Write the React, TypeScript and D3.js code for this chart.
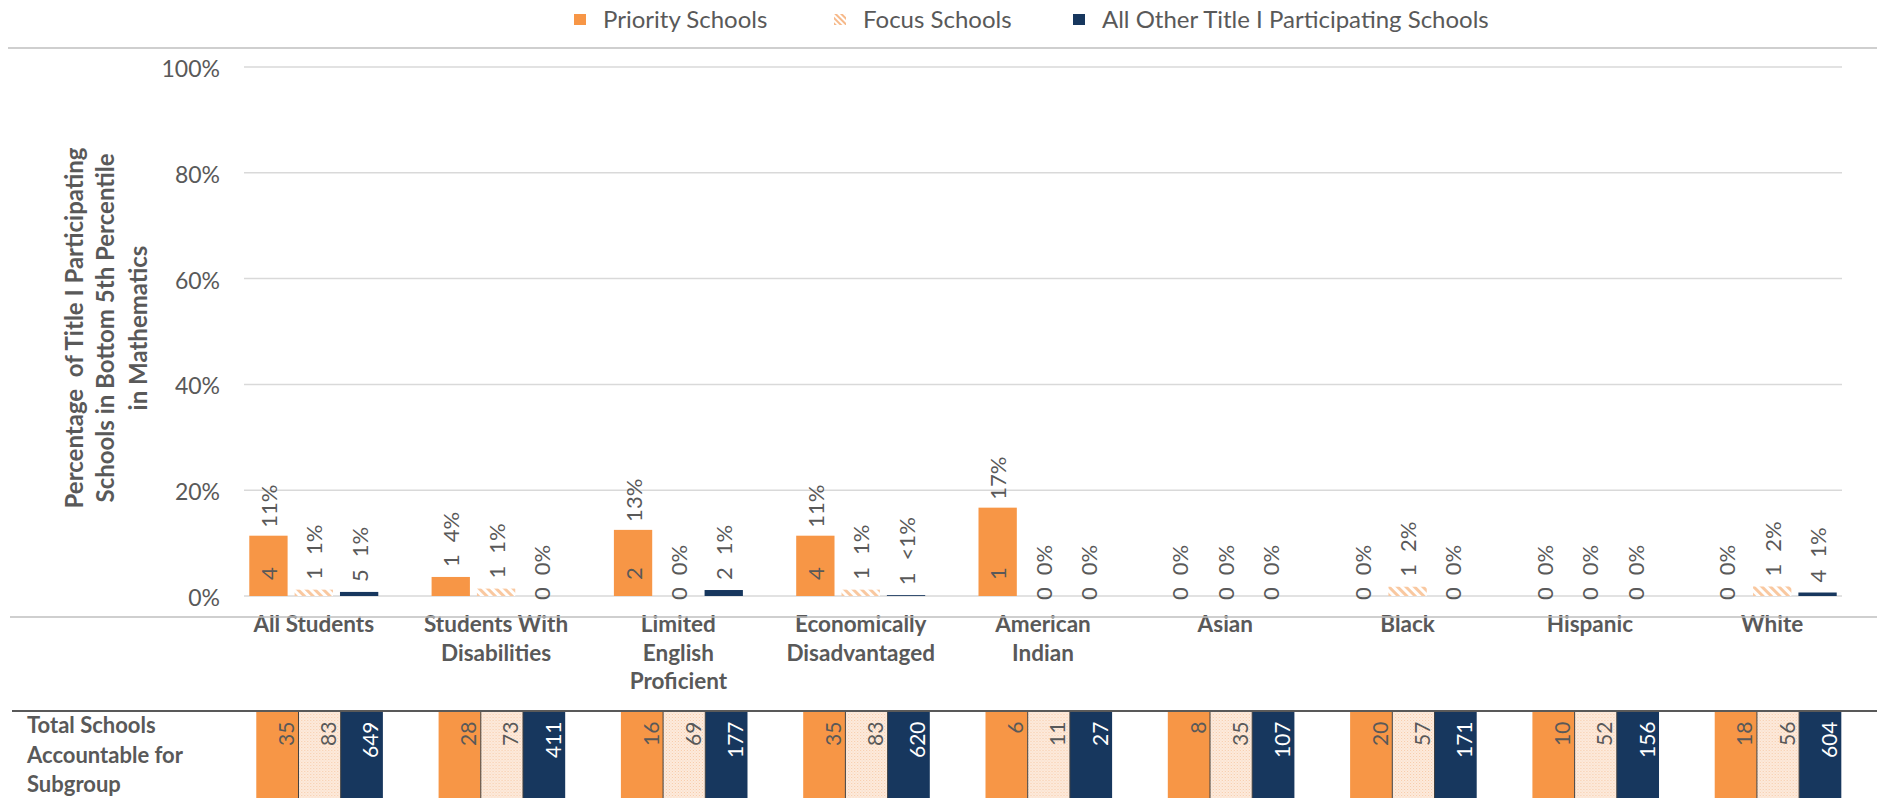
import React from "react";
import * as d3 from "d3";

const categories = [
  "All Students",
  "Students With Disabilities",
  "Limited English Proficient",
  "Economically Disadvantaged",
  "American Indian",
  "Asian",
  "Black",
  "Hispanic",
  "White",
];
const categoryLines = [
  ["All Students"],
  ["Students With", "Disabilities"],
  ["Limited", "English", "Proficient"],
  ["Economically", "Disadvantaged"],
  ["American", "Indian"],
  ["Asian"],
  ["Black"],
  ["Hispanic"],
  ["White"],
];
const seriesNames = ["Priority Schools", "Focus Schools", "All Other Title I Participating Schools"];

// percentage of schools in bottom 5th percentile (bar values)
const priorityPct = [11.4, 3.6, 12.5, 11.4, 16.7, 0, 0, 0, 0];
const focusPct = [1.2, 1.4, 0, 1.2, 0, 0, 1.75, 0, 1.8];
const otherPct = [0.77, 0, 1.13, 0.16, 0, 0, 0, 0, 0.66];

// count of schools in bottom 5th percentile
const priorityCount = [4, 1, 2, 4, 1, 0, 0, 0, 0];
const focusCount = [1, 1, 0, 1, 0, 0, 1, 0, 1];
const otherCount = [5, 0, 2, 1, 0, 0, 0, 0, 4];

// total schools accountable for subgroup
const priorityTotal = [35, 28, 16, 35, 6, 8, 20, 10, 18];
const focusTotal = [83, 73, 69, 83, 11, 35, 57, 52, 56];
const otherTotal = [649, 411, 177, 620, 27, 107, 171, 156, 604];

const yTicks = [0, 20, 40, 60, 80, 100];
const yTitleLines = ["Percentage  of Title I Participating", "Schools in Bottom 5th Percentile", "in Mathematics"];
const tableLabelLines = ["Total Schools", "Accountable for", "Subgroup"];

const ORANGE = "#F79646";
const NAVY = "#17375E";
const GREY = "#595959";
const FONT = "Lato, 'Open Sans', sans-serif";

const pctValues = [priorityPct, focusPct, otherPct];
const countValues = [priorityCount, focusCount, otherCount];
const totalValues = [priorityTotal, focusTotal, otherTotal];

function fmtPct(v: number) {
  if (v > 0 && v < 0.5) return "<1%";
  return `${Math.round(v)}%`;
}

export default function App() {
  const W = 1877;
  const H = 798;
  const x = d3
    .scaleBand<string>()
    .domain(categories)
    .range([244, 1842])
    .paddingInner(0.2924)
    .paddingOuter(0.029);
  const xs = d3
    .scaleBand<string>()
    .domain(seriesNames)
    .range([0, x.bandwidth()])
    .paddingInner(0.155);
  const y = d3.scaleLinear().domain([0, 100]).range([596, 67]);
  const y0 = y(0);
  const fills = [ORANGE, "url(#focusHatch)", NAVY];
  const cellFills = [ORANGE, "url(#focusDots)", NAVY];
  const cellW = 42.2;
  const labelFont = 22;
  const digitW = labelFont * 0.58;

  const legendX = [574, 834, 1073];
  const legendFills = [ORANGE, "url(#legendHatch)", NAVY];

  return (
    <svg
      width={W}
      height={H}
      style={{ position: "absolute", left: 0, top: 0, background: "#fff" }}
      fontFamily={FONT}
    >
      <defs>
        <pattern id="focusHatch" patternUnits="userSpaceOnUse" width="6" height="6" patternTransform="rotate(-45)">
          <rect width="6" height="6" fill="#ffffff" />
          <rect width="3" height="6" fill="#F9C8A0" />
        </pattern>
        <pattern id="legendHatch" patternUnits="userSpaceOnUse" width="4" height="4" patternTransform="rotate(-45)">
          <rect width="4" height="4" fill="#ffffff" />
          <rect width="2" height="4" fill="#F6B98A" />
        </pattern>
        <pattern id="focusDots" patternUnits="userSpaceOnUse" width="3" height="3">
          <rect width="3" height="3" fill="#FDEBDD" />
          <rect x="0" y="0" width="1" height="1" fill="#F6C9A6" />
          <rect x="1.5" y="1.5" width="1" height="1" fill="#F8D6BC" />
        </pattern>
      </defs>

      {/* legend */}
      {seriesNames.map((s, i) => (
        <g key={s}>
          <rect x={legendX[i]} y={14} width={12} height={11} fill={legendFills[i]} />
          <text x={legendX[i] + 29} y={28} fontSize={24} fill={GREY}>
            {s}
          </text>
        </g>
      ))}
      <line x1={8} x2={W} y1={48} y2={48} stroke="#BFBFBF" strokeWidth={1.5} />

      {/* gridlines and y ticks */}
      {yTicks.map((t) => (
        <g key={t}>
          <line x1={244} x2={1842} y1={y(t)} y2={y(t)} stroke="#D9D9D9" strokeWidth={1.5} />
          <text x={220} y={y(t) + 1} fontSize={23} fill={GREY} textAnchor="end" dominantBaseline="central">
            {`${t}%`}
          </text>
        </g>
      ))}

      {/* y title */}
      {yTitleLines.map((l, i) => (
        <text
          key={l}
          transform={`translate(${[73, 104, 137][i]},${328}) rotate(-90)`}
          textAnchor="middle"
          dominantBaseline="central"
          fontSize={24}
          fontWeight="bold"
          fill={GREY}
          style={{ whiteSpace: "pre" }}
        >
          {l}
        </text>
      ))}

      {/* bars */}
      {categories.map((c, ci) => (
        <g key={c} transform={`translate(${x(c)},0)`}>
          {seriesNames.map((s, si) => {
            const v = pctValues[si][ci];
            const bx = xs(s)!;
            const bw = xs.bandwidth();
            const top = y(v);
            const cx = bx + bw / 2;
            const count = countValues[si][ci];
            const countStr = `${count}`;
            const countLen = countStr.length * digitW;
            const inside = y0 - top > countLen + 24;
            const countBottom = v === 0 ? y0 + 4 : inside ? y0 - 16 : top - 10;
            const countTop = countBottom - countLen;
            const pctBottom = Math.min(top - 8, countTop - 12);
            return (
              <g key={s}>
                {v > 0 && <rect x={bx} y={top} width={bw} height={y0 - top} fill={fills[si]} />}
                <text
                  transform={`translate(${cx},${countBottom}) rotate(-90)`}
                  textAnchor="start"
                  dominantBaseline="central"
                  fontSize={labelFont}
                  fill={GREY}
                >
                  {countStr}
                </text>
                <text
                  transform={`translate(${cx},${pctBottom}) rotate(-90)`}
                  textAnchor="start"
                  dominantBaseline="central"
                  fontSize={labelFont}
                  fill={GREY}
                >
                  {fmtPct(v)}
                </text>
              </g>
            );
          })}
          {categoryLines[ci].map((l, li) => (
            <text
              key={l}
              x={x.bandwidth() / 2}
              y={632 + li * 28.5}
              textAnchor="middle"
              fontSize={22.5}
              fontWeight="bold"
              fill={GREY}
            >
              {l}
            </text>
          ))}
        </g>
      ))}

      <line x1={10} x2={W} y1={617} y2={617} stroke="#BFBFBF" strokeWidth={1.5} />

      {/* table */}
      <line x1={12} x2={W} y1={711} y2={711} stroke="#595959" strokeWidth={2} />
      {tableLabelLines.map((l, i) => (
        <text key={l} x={27} y={733 + i * 29.5} fontSize={22} fontWeight="bold" fill={GREY}>
          {l}
        </text>
      ))}
      {categories.map((c, ci) => (
        <g key={c} transform={`translate(${x(c)! + 7},0)`}>
          {seriesNames.map((s, si) => (
            <g key={s}>
              <rect x={si * cellW} y={712} width={cellW} height={H - 712} fill={cellFills[si]} />
              <text
                transform={`translate(${(si + 1) * cellW - 4.5},${721.5}) rotate(-90)`}
                textAnchor="end"
                fontSize={21}
                fill={si === 2 ? "#ffffff" : GREY}
              >
                {`${totalValues[si][ci]}`}
              </text>
            </g>
          ))}
          <line x1={cellW} x2={cellW} y1={712} y2={H} stroke="#404040" strokeWidth={1} />
          <line x1={2 * cellW} x2={2 * cellW} y1={712} y2={H} stroke="#404040" strokeWidth={1} />
        </g>
      ))}
    </svg>
  );
}
